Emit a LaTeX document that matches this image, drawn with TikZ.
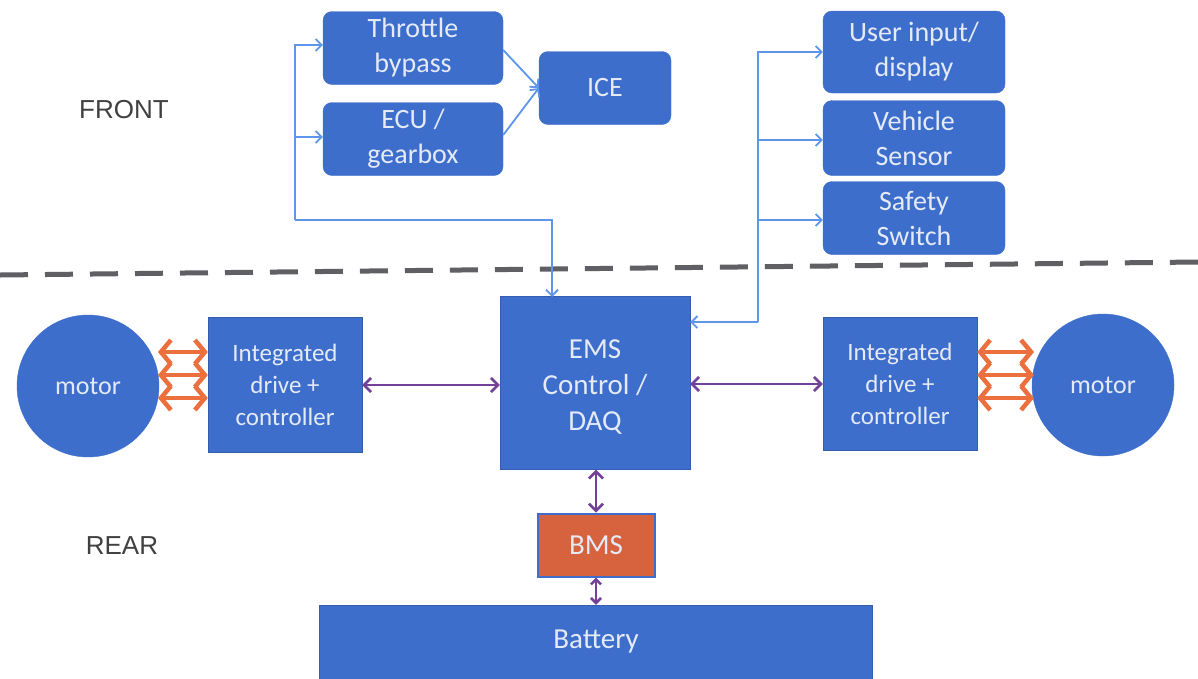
\documentclass[tikz,border=0pt]{standalone}
\usepackage{fontspec}
\setmainfont{Carlito}
\newfontfamily\labfont{Liberation Sans}
\usetikzlibrary{arrows.meta}
\definecolor{boxblue}{RGB}{62,110,204}
\definecolor{lineblue}{RGB}{95,150,235}
\definecolor{linkpurple}{RGB}{115,65,150}
\definecolor{linkorange}{RGB}{236,112,62}
\definecolor{bmsfill}{RGB}{214,98,62}
\definecolor{txtcol}{RGB}{228,234,246}
\definecolor{dashgray}{RGB}{95,95,100}
\tikzset{
  x=1pt, y=-1pt,
  topbox/.style={draw=boxblue, fill=boxblue, rounded corners=9pt, text=txtcol,
    font=\fontsize{28}{35}\selectfont, align=center, inner sep=0pt},
  rearbox/.style={draw=boxblue!85!black, fill=boxblue, text=txtcol,
    font=\fontsize{25}{32}\selectfont, align=center, inner sep=0pt},
  motorc/.style={circle, draw=boxblue, fill=boxblue, text=txtcol,
    font=\fontsize{26}{28}\selectfont, minimum size=142pt, inner sep=0pt},
  bluelink/.style={draw=lineblue, line width=1.8pt, -{Straight Barb[length=6pt,width=12pt]}},
  purplelink/.style={draw=linkpurple, line width=2.6pt, {Straight Barb[length=7pt,width=14pt]}-{Straight Barb[length=7pt,width=14pt]}},
  orangelink/.style={draw=linkorange, line width=4.5pt, {Straight Barb[length=10pt,width=24pt]}-{Straight Barb[length=10pt,width=24pt]}},
  sidelabel/.style={font=\labfont\fontsize{26}{28}\selectfont, text=black!75}
}
\begin{document}
\begin{tikzpicture}
\useasboundingbox (0,0) rectangle (1198,678);
\fill[white] (0,0) rectangle (1198,678);

% labels
\node[sidelabel] (front) at (124,110) {FRONT};
\node[sidelabel] (rear) at (122,546) {REAR};

% divider
\draw[dashgray, line width=5pt, dash pattern=on 28pt off 17pt] (0,275) -- (1198,262);

% front boxes
\node[topbox, minimum width=180pt, minimum height=73pt] (thr) at (413,48) {Throttle\\bypass};
\node[topbox, minimum width=180pt, minimum height=73pt] (ecu) at (413,139) {ECU /\\gearbox};
\node[topbox, minimum width=132pt, minimum height=73pt] (ice) at (605,88) {ICE};
\node[topbox, minimum width=182pt, minimum height=82pt] (usr) at (914,52) {User input/\\display};
\node[topbox, minimum width=182pt, minimum height=75pt] (veh) at (914,138) {Vehicle\\Sensor};
\node[topbox, minimum width=182pt, minimum height=73pt] (saf) at (914,218) {Safety\\Switch};

% rear boxes
\node[rearbox, minimum width=190pt, minimum height=173pt] (ems) at (595,383) {};
\node[text=txtcol, align=center, font=\fontsize{29}{36}\selectfont] (emstxt) at (595,387) {EMS\\Control /\\DAQ};
\node[rearbox, minimum width=154pt, minimum height=135pt] (lint) at (285,385) {Integrated\\drive +\\controller};
\node[rearbox, minimum width=154pt, minimum height=133pt] (rint) at (900,384) {Integrated\\drive +\\controller};
\node[motorc] (lmot) at (88,386) {motor};
\node[motorc] (rmot) at (1103,385) {motor};
\node[rearbox, draw=boxblue, line width=2pt, fill=bmsfill, minimum width=117pt, minimum height=63pt, font=\fontsize{29}{30}\selectfont] (bms) at (596,545) {BMS};
\node[rearbox, minimum width=553pt, minimum height=90pt] (bat) at (596,650) {};
\node[text=txtcol, font=\fontsize{29}{30}\selectfont] (battxt) at (596,642) {Battery};

% front-left wiring
\coordinate (lv) at (295,220);
\draw[bluelink] (lv) -- (295,45) -- (thr.west |- 0,45);
\draw[bluelink] (295,137) -- (ecu.west |- 0,137);
\draw[bluelink] (lv) -- (552,220) -- (552,297);
\draw[bluelink] (thr.east |- 0,50) -- (ice.west);
\draw[bluelink] (ecu.east |- 0,135) -- (ice.west);

% front-right wiring
\coordinate (rv) at (758,322);
\draw[bluelink] (rv) -- (758,52) -- (usr.west |- 0,52);
\draw[bluelink] (758,140) -- (veh.west |- 0,140);
\draw[bluelink] (758,220) -- (saf.west |- 0,220);
\draw[bluelink] (rv) -- (ems.east |- rv);

% rear links
\draw[purplelink] (lint.east) -- (ems.west |- lint.east);
\draw[purplelink] (ems.east |- rint.west) -- (rint.west);
\draw[purplelink] (ems.south -| bms.north) -- (bms.north);
\draw[linkpurple, line width=2.6pt, {Straight Barb[length=5pt,width=10pt]}-{Straight Barb[length=5pt,width=10pt]}] (bms.south) -- (bat.north);

\foreach \yy in {352,375,398} {
  \draw[orangelink] (158,\yy) -- (lint.west |- 0,\yy);
  \draw[orangelink] (rint.east |- 0,\yy) -- (1034,\yy);
}
\end{tikzpicture}
\end{document}
